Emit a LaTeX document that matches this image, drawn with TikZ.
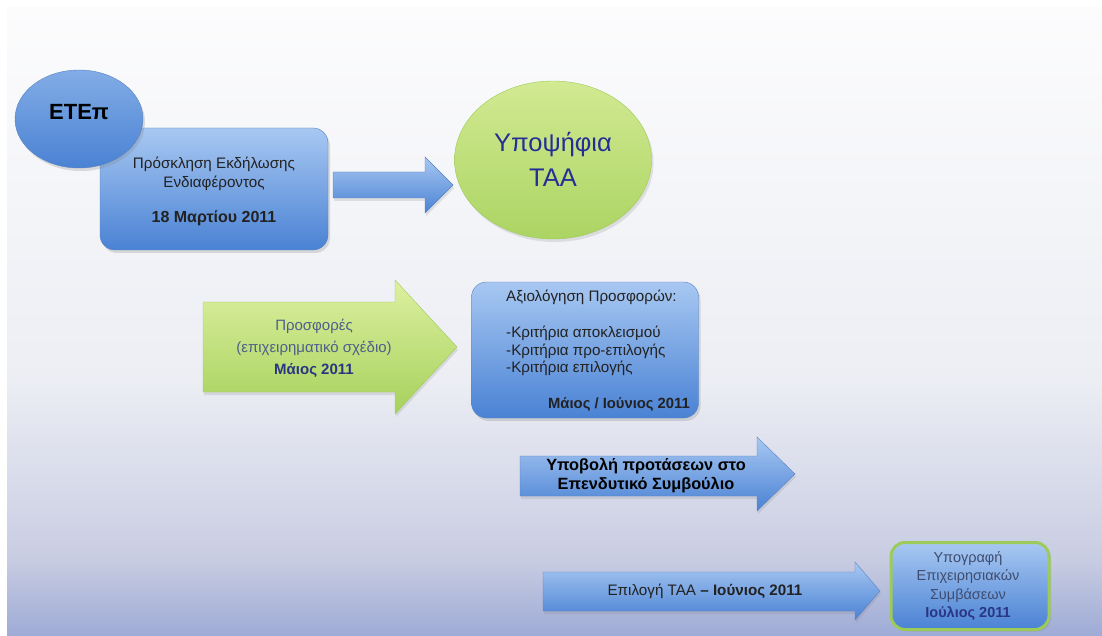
\documentclass[tikz,border=0pt]{standalone}
\usepackage{fontspec}
\setmainfont{Liberation Sans}
\usetikzlibrary{shapes,shadows,positioning}
\definecolor{bgA}{HTML}{FCFCFD}
\definecolor{bgB}{HTML}{ECEEF4}
\definecolor{bgC}{HTML}{C8CCE2}
\definecolor{bgD}{HTML}{9EABD6}
\definecolor{blueTop}{HTML}{A8C8F2}
\definecolor{blueBot}{HTML}{4A82D4}
\definecolor{blueEdge}{HTML}{5A82C0}
\definecolor{greenTop}{HTML}{DDF0A0}
\definecolor{greenBot}{HTML}{A6D15C}
\definecolor{greenEdge}{HTML}{9CCB5A}
\definecolor{navyText}{HTML}{2A3683}
\definecolor{slateText}{HTML}{4F5F8A}
\definecolor{darkText}{HTML}{222222}
\tikzstyle{bluebox} = [rectangle, draw=blueEdge, top color=blueTop, bottom color=blueBot,
    rounded corners=15pt, drop shadow={opacity=0.25, shadow xshift=2pt, shadow yshift=-3pt}]
\tikzstyle{bluearrow} = [draw=blueEdge, top color=blueTop, bottom color=blueBot,
    drop shadow={opacity=0.2, shadow xshift=1pt, shadow yshift=-3pt}]
\tikzstyle{greenarrow} = [draw=greenEdge, top color=greenTop, bottom color=greenBot,
    drop shadow={opacity=0.2, shadow xshift=1pt, shadow yshift=-3pt}]
\tikzstyle{label} = [text=darkText, align=center, inner sep=0pt]

\begin{document}
\begin{tikzpicture}[x=1pt, y=-1pt, font=\fontsize{15.2}{19}\selectfont]
\useasboundingbox (0,0) rectangle (1102,636);
%% Background
\fill[top color=bgA, bottom color=bgB] (7,8) rectangle (1102,381);
\fill[top color=bgB, bottom color=bgC] (7,380) rectangle (1102,561);
\fill[top color=bgC, bottom color=bgD] (7,560) rectangle (1102,636);

%% Place nodes
\node [bluebox, minimum width=228, minimum height=122] (invite) at (214,189) {};
\node [ellipse, draw=blueEdge, top color=blueTop!60!blueBot, bottom color=blueBot,
    minimum width=128, minimum height=98,
    drop shadow={opacity=0.25, shadow xshift=2pt, shadow yshift=-3pt}] (etep) at (79,119) {};
\node [label, font=\fontsize{22}{26}\selectfont\bfseries, text=black] (etepname) at (79,112) {ΕΤΕπ};
\node [label] (invitetext) at (214,191.5) {Πρόσκληση Εκδήλωσης\\Ενδιαφέροντος\\[16pt]%
    \fontsize{16}{19}\selectfont\textbf{18 Μαρτίου 2011}};

\node [ellipse, draw=greenEdge, top color=greenTop!80!greenBot, bottom color=greenBot!90!greenTop,
    minimum width=197, minimum height=158,
    drop shadow={opacity=0.2, shadow xshift=2pt, shadow yshift=-3pt}] (taa) at (553,160) {};
\node [label, text=navyText!85!blue, font=\fontsize{25.5}{35}\selectfont] (taaname) at (553,159) {Υποψήφια\\ΤΑΑ};

\node [bluebox, minimum width=227, minimum height=136] (evaluation) at (585,350) {};
\node [label, anchor=west] (evalhead) at (506,297) {Αξιολόγηση Προσφορών:};
\node [label, anchor=west, align=left, font=\fontsize{15.2}{17.5}\selectfont] (evallist) at (506,351)
    {-Κριτήρια αποκλεισμού\\-Κριτήρια προ-επιλογής\\-Κριτήρια επιλογής};
\node [label, font=\fontsize{14.8}{19}\selectfont\bfseries] (evaldate) at (619,404) {Μάιος / Ιούνιος 2011};

\node [rectangle, draw=greenEdge, line width=3pt, top color=blueTop, bottom color=blueBot,
    rounded corners=14pt, minimum width=158, minimum height=87,
    drop shadow={opacity=0.25, shadow xshift=2pt, shadow yshift=-2pt}] (contracts) at (970,586) {};
\node [label, text=slateText!80!black, font=\fontsize{14.5}{18.5}\selectfont] (contractstext) at (968,586)
    {Υπογραφή\\Επιχειρησιακών\\Συμβάσεων\\\textcolor{navyText}{\textbf{Ιούλιος 2011}}};

%% Draw block arrows
\path [bluearrow] (333,172) -- (425,172) -- (425,157) -- (453,185) -- (425,213) -- (425,198) -- (333,198) -- cycle;
\path [greenarrow] (203,302) -- (395,302) -- (395,280) -- (457,347) -- (395,414) -- (395,392) -- (203,392) -- cycle;
\path [bluearrow] (520,456) -- (757,456) -- (757,437) -- (795,474) -- (757,511) -- (757,496) -- (520,496) -- cycle;
\path [bluearrow] (543,572) -- (855,572) -- (855,562) -- (880,591) -- (855,620) -- (855,611) -- (543,611) -- cycle;

%% Arrow texts
\node [label, text=slateText, font=\fontsize{15}{22}\selectfont] (offers) at (314,348)
    {Προσφορές\\(επιχειρηματικό σχέδιο)\\\textcolor{navyText}{\textbf{Μάιος 2011}}};
\node [label, text=black, font=\fontsize{16.3}{19}\selectfont\bfseries] (submit) at (646,476)
    {Υποβολή προτάσεων στο\\Επενδυτικό Συμβούλιο};
\node [label] (selection) at (705,591) {Επιλογή ΤΑΑ \textbf{– Ιούνιος 2011}};
\end{tikzpicture}
\end{document}
